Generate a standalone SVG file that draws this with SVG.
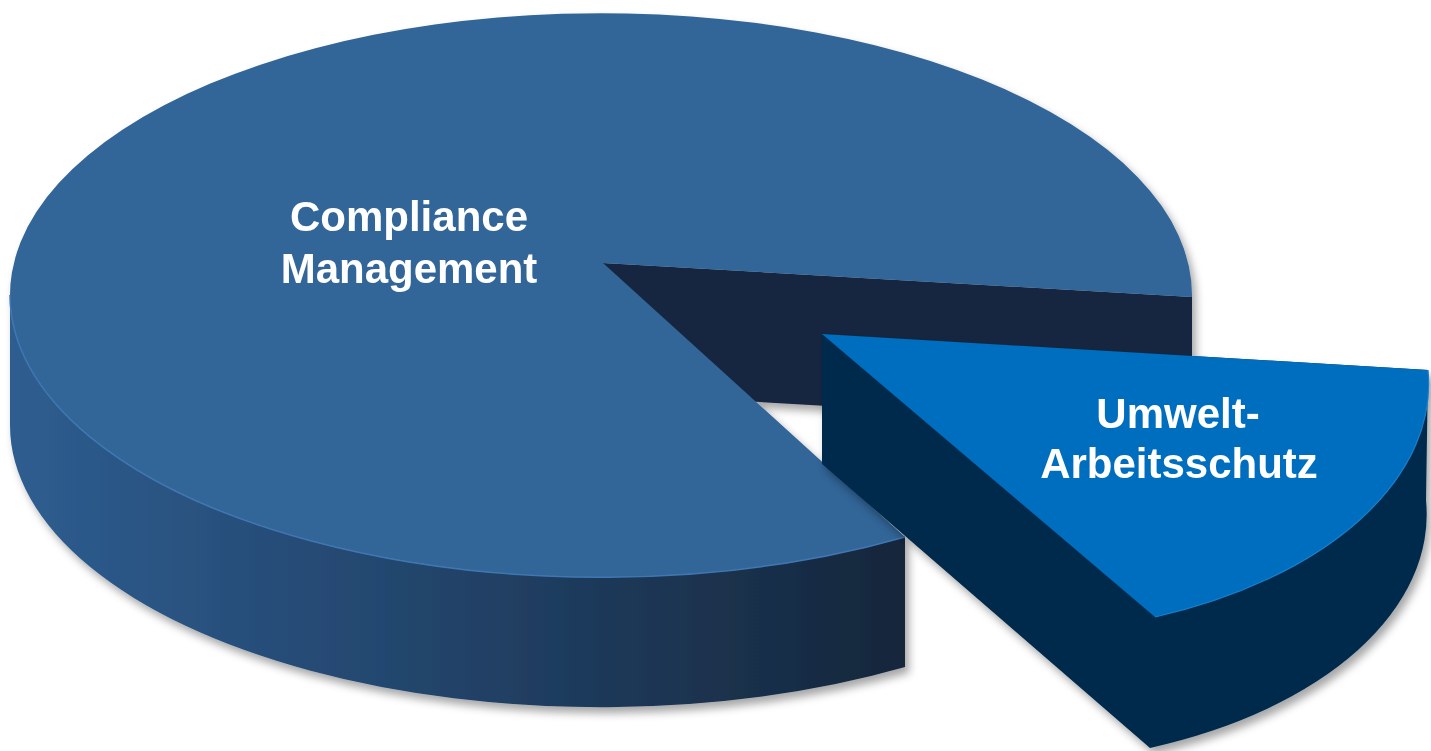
<svg xmlns="http://www.w3.org/2000/svg" width="1431" height="751" viewBox="0 0 1431 751">
  <defs>
    <linearGradient id="sideGrad" x1="10" y1="0" x2="905" y2="0" gradientUnits="userSpaceOnUse">
      <stop offset="0" stop-color="#2e5d90"/>
      <stop offset="0.45" stop-color="#23456c"/>
      <stop offset="1" stop-color="#15263b"/>
    </linearGradient>
    <filter id="shadow" x="-5%" y="-5%" width="115%" height="120%">
      <feDropShadow dx="4" dy="6" stdDeviation="4" flood-color="#000" flood-opacity="0.35"/>
    </filter>
    <style>
      .label { font-family: "Liberation Sans", Arial, sans-serif; font-weight: bold; font-size: 42px; fill: #ffffff; text-anchor: middle; }
    </style>
  </defs>
  <rect width="1431" height="751" fill="#ffffff"/>

  <g id="compliance" filter="url(#shadow)">
    <polygon points="603,263 1192,297 1192,427 603,393" fill="#15283f"/>
    <path d="M10,295 A591,282 0 0 0 905,537 L905,667 A591,282 0 0 1 10,425 Z" fill="url(#sideGrad)"/>
    <path d="M603,263 L905,537 A591,282 0 1 1 1192,297 Z" fill="#336598"/>
    <path d="M10,295 A591,282 0 0 0 905,537" fill="none" stroke="#3f77b3" stroke-width="1.5"/>
    <text class="label" x="409" y="231">Compliance</text>
    <text class="label" x="409" y="283">Management</text>
  </g>

  <g id="umwelt" filter="url(#shadow)">
    <path d="M822,334 L1428,370 L1426,500 A430,250 0 0 1 1150,748 L822,464 Z" fill="#002b4c"/>
    <path d="M822,334 L1428,370 A430,250 0 0 1 1155,617 Z" fill="#006ebf"/>
    <path d="M1428,370 A430,250 0 0 1 1155,617" fill="none" stroke="#1a7fcc" stroke-width="1.2"/>
    <text class="label" x="1178" y="428">Umwelt-</text>
    <text class="label" x="1179" y="478">Arbeitsschutz</text>
  </g>
</svg>
